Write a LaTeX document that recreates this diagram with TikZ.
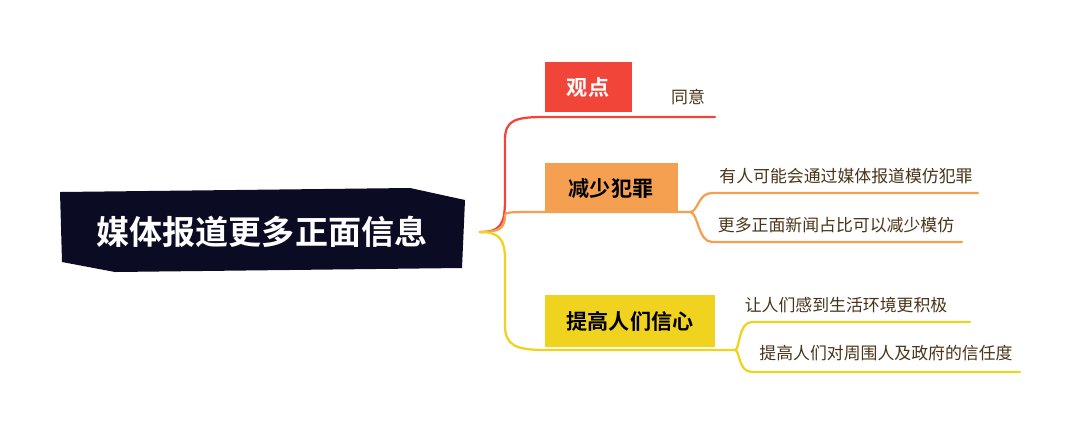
\documentclass[tikz,border=0pt]{standalone}
\usepackage{fontspec}
\newfontfamily\cjk{Noto Sans CJK SC}
\newfontfamily\cjkb{Noto Sans CJK SC Bold}
\definecolor{navy}{HTML}{0B0B24}
\definecolor{cred}{HTML}{F2453A}
\definecolor{corange}{HTML}{F5A050}
\definecolor{cyellow}{HTML}{F0D31E}
\definecolor{ctext}{HTML}{4A3418}
\tikzset{
  px/.style={x=0.025cm,y=-0.025cm},
  topic/.style={anchor=center,font=\cjkb\fontsize{15}{15}\selectfont,inner sep=0pt},
  leaf/.style={anchor=center,font=\cjk\fontsize{12}{12}\selectfont,text=ctext,inner sep=0pt},
  br/.style={line width=1.6pt,line cap=round}
}
\begin{document}
\begin{tikzpicture}[px]
\useasboundingbox (0,0) rectangle (1080,424);
% central
\fill[navy] (60,192) -- (410,188) -- (465,200) -- (462,268) -- (115,272) -- (62,262) -- cycle;
\node[anchor=center,font=\cjkb\fontsize{23.5}{23.5}\selectfont,text=white] (c) at (262,232) {媒体报道更多正面信息};
\coordinate (root) at (480,232);
% topics
\fill[cred] (545,62) rectangle (632,112);
\node[topic,text=white] (t1) at (588,87) {观点};
\fill[corange] (545,163) rectangle (678,212);
\node[topic,text=black] (t2) at (611,188) {减少犯罪};
\fill[cyellow] (545,295) rectangle (715,347);
\node[topic,text=black] (t3) at (630,321) {提高人们信心};
\coordinate (e1a) at (545,117); \coordinate (e1b) at (715,117);
\coordinate (e2a) at (545,212); \coordinate (e2b) at (690,212);
\coordinate (e3a) at (545,350); \coordinate (e3b) at (735,350);
% branches
\draw[br,cred] (root) .. controls (500,232) and (505,225) .. (505,200) -- (505,140) .. controls (505,120) and (515,117) .. (e1a) -- (e1b);
\draw[br,corange] (root) .. controls (500,232) and (505,228) .. (505,215) .. controls (505,212) and (510,212) .. (e2a) -- (e2b);
\draw[br,cyellow] (root) .. controls (500,232) and (505,240) .. (505,260) -- (505,325) .. controls (505,345) and (515,350) .. (e3a) -- (e3b);
% leaves
\node[leaf] (l1) at (688,97) {同意};
\node[leaf] (l2) at (846,176) {有人可能会通过媒体报道模仿犯罪};
\node[leaf] (l3) at (836,225) {更多正面新闻占比可以减少模仿};
\node[leaf] (l4) at (846,305) {让人们感到生活环境更积极};
\node[leaf] (l5) at (886,353) {提高人们对周围人及政府的信任度};
\draw[br,corange] (e2b) .. controls (698,212) and (698,193) .. (712,193) -- (978,193);
\draw[br,corange] (e2b) .. controls (698,212) and (698,242) .. (712,242) -- (962,242);
\draw[br,cyellow] (e3b) .. controls (740,350) and (738,322) .. (752,322) -- (970,322);
\draw[br,cyellow] (e3b) .. controls (740,350) and (738,372) .. (752,372) -- (1020,372);
\end{tikzpicture}
\end{document}
